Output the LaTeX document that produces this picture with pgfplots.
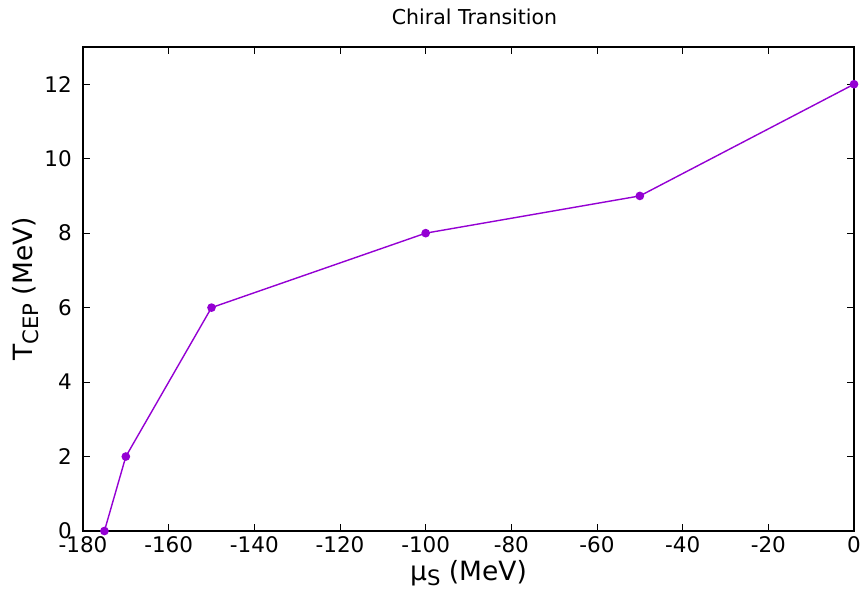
\documentclass[border=0pt]{standalone}
\usepackage{pgfplots}
\pgfplotsset{compat=1.18}
\usepackage{fontspec}
\setmainfont{DejaVu Sans}

\definecolor{lineviolet}{HTML}{9400D3}
\newcommand\sub[1]{\raisebox{-0.35ex}{\scalebox{0.8}{#1}}}

\begin{document}
\begin{tikzpicture}
\begin{axis}[
  scale only axis,
  width=771pt, height=484pt,
  xmin=-180, xmax=0, ymin=0, ymax=13,
  xtick={-180,-160,...,0},
  ytick={0,2,...,12},
  tick align=inside,
  major tick length=7pt,
  axis line style={line width=1.1pt},
  tick style={black, line width=0.8pt},
  /pgf/number format/assume math mode=true,
  ticklabel style={font=\fontsize{21.5}{24}\selectfont},
  xticklabel style={inner sep=0pt, yshift=-5pt},
  yticklabel style={inner sep=0pt, xshift=-11pt},
  title={Chiral Transition},
  title style={font=\fontsize{20.5}{24}\selectfont, at={(axis description cs:0.5,1)},
    anchor=base, inner sep=0pt, yshift=16pt, xshift=6pt},
  xlabel={μ\sub{S} (MeV)},
  xlabel style={font=\fontsize{26.5}{30}\selectfont, at={(axis description cs:0.5,0)},
    anchor=base, inner sep=0pt, yshift=-49pt},
  ylabel={T\sub{CEP} (MeV)},
  ylabel style={font=\fontsize{26.5}{30}\selectfont, at={(axis description cs:0,0.5)},
    anchor=base, inner sep=0pt, yshift=50pt},
]
\addplot[color=lineviolet, line width=1.4pt, mark=*, mark size=3.6pt,
  mark options={fill=lineviolet, draw=lineviolet}]
  coordinates {
    (-175,0) (-170,2) (-150,6) (-100,8) (-50,9) (0,12)
  };
\end{axis}
\useasboundingbox (-83pt,-59pt) rectangle (781pt,531pt);
\end{tikzpicture}
\end{document}
